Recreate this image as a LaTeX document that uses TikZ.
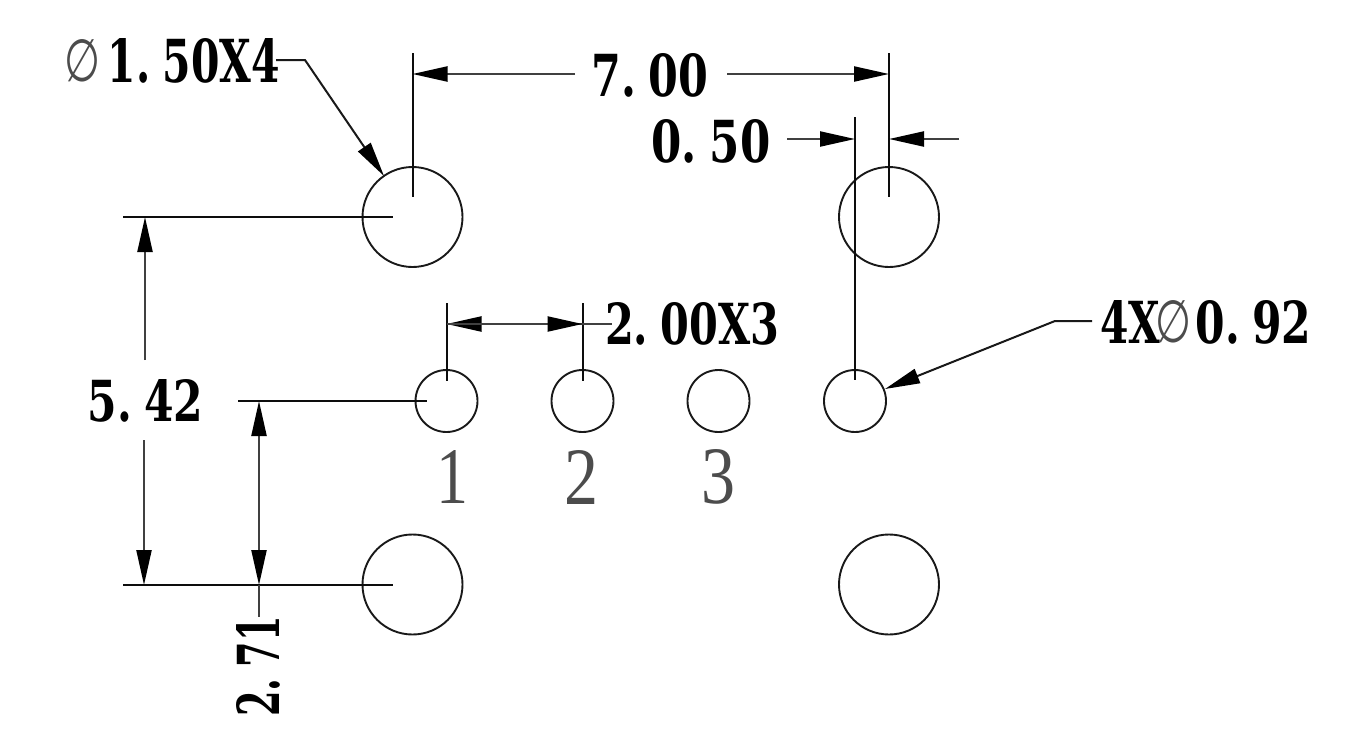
\documentclass[tikz,border=0pt]{standalone}
\usepackage{fontspec}
\usepackage{graphicx}
\usetikzlibrary{arrows.meta}
\setmainfont{DejaVu Serif}
\newfontfamily\thinfont{Liberation Serif}
\newfontfamily\symfont{DejaVu Sans}
\newcommand{\fitbold}[3]{\resizebox{#1pt}{#2pt}{\fontsize{40}{40}\selectfont\bfseries\spaceskip=.18em\relax #3}}
\newcommand{\fitthin}[3]{\resizebox{#1pt}{#2pt}{\fontsize{40}{40}\thinfont #3}}
\newcommand{\fitsym}[2]{\resizebox{#1pt}{#2pt}{\fontsize{40}{40}\symfont ∅}}
\tikzset{
  lbl/.style={inner sep=0pt,outer sep=0pt,text=black},
  numlbl/.style={inner sep=0pt,outer sep=0pt,text=black!70},
  symlbl/.style={inner sep=0pt,outer sep=0pt,text=black!70},
  hole/.style={circle,draw=black!90,line width=1.9pt,inner sep=0pt,outer sep=0pt},
  bighole/.style={hole,minimum size=100pt},
  smallhole/.style={hole,minimum size=62pt},
  extline/.style={draw=black!95,line width=2pt},
  dimline/.style={draw=black!75,line width=2.2pt},
  tip/.style={-{Triangle[length=35pt,width=15pt,color=black,fill=black]}},
  lead/.style={draw=black!90,line width=2pt},
}
\begin{document}
\begin{tikzpicture}[x=1pt,y=-1pt]
\useasboundingbox (0,0) rectangle (1347,739);
% holes
\node[bighole] (hA) at (412.5,217) {};
\node[bighole] (hB) at (889,217) {};
\node[bighole] (hC) at (412.5,584.5) {};
\node[bighole] (hD) at (889,584.5) {};
\node[smallhole] (p1) at (446.5,401) {};
\node[smallhole] (p2) at (582.5,401) {};
\node[smallhole] (p3) at (718.5,401) {};
\node[smallhole] (p4) at (855,401) {};
% pin numbers
\node[numlbl] (n1) at (452,477) {\fitthin{32}{53}{1}};
\node[numlbl] (n2) at (581,477) {\fitthin{34}{54}{2}};
\node[numlbl] (n3) at (718,477) {\fitthin{34}{54}{3}};
% labels
\node[symlbl] (phiA) at (82.5,61) {\fitsym{36}{42}};
\node[lbl] (tA) at (194,60.5) {\fitbold{172}{44}{1. 50X4}};
\node[lbl] (t700) at (650,75) {\fitbold{117}{43}{7. 00}};
\node[lbl] (t050) at (711,141.5) {\fitbold{119}{43}{0. 50}};
\node[lbl] (t200) at (692,324) {\fitbold{174}{42}{2. 00X3}};
\node[lbl] (t4x) at (1130,322) {\fitbold{60}{43}{4X}};
\node[symlbl] (phiB) at (1173,322) {\fitsym{36}{42}};
\node[lbl] (t092) at (1253.5,322) {\fitbold{116}{43}{0. 92}};
\node[lbl] (t542) at (145.5,401) {\fitbold{116}{42}{5. 42}};
\node[lbl,rotate=90] (t271) at (258.5,666.5) {\fitbold{100}{43}{2. 71}};
% coordinates for free ends
\coordinate (eA1) at (412.5,53);   \coordinate (eA2) at (412.5,197);
\coordinate (eB1) at (889,53);     \coordinate (eB2) at (889,197);
\coordinate (dA) at (412.5,74);    \coordinate (dA2) at (575,74);
\coordinate (dB) at (889,74);      \coordinate (dB2) at (727,74);
\coordinate (eC1) at (855,117);    \coordinate (eC2) at (855,380);
\coordinate (d50a) at (787,139);   \coordinate (d50b) at (855,139);
\coordinate (d50c) at (959,139);   \coordinate (d50d) at (889,139);
\coordinate (lA0) at (276,60);     \coordinate (lA1) at (305,60);  \coordinate (lA2) at (384,176);
\coordinate (lB0) at (1092,321);   \coordinate (lB1) at (1055,321);\coordinate (lB2) at (885,389);
\coordinate (eL1) at (123,217);    \coordinate (eL2) at (393,217);
\coordinate (eL3) at (123,585);    \coordinate (eL4) at (393,585);
\coordinate (eM1) at (238,401);    \coordinate (eM2) at (427,401);
\coordinate (v1a) at (145,217);    \coordinate (v1b) at (145,360);
\coordinate (v2a) at (144,440);    \coordinate (v2b) at (144,585);
\coordinate (v3a) at (259,401);    \coordinate (v3b) at (259,585);
\coordinate (v3c) at (259,617);    \coordinate (v3m) at (259,500);
\coordinate (eP1a) at (446.5,303); \coordinate (eP1b) at (446.5,381);
\coordinate (eP2a) at (582.5,303); \coordinate (eP2b) at (582.5,381);
\coordinate (dP1) at (446.5,324);  \coordinate (dP2) at (582.5,324);
\coordinate (dP3) at (612,324);
% extension lines
\path[extline] (eA1) -- (eA2);
\path[extline] (eB1) -- (eB2);
\path[extline] (eC1) -- (eC2);
\path[extline] (eL1) -- (eL2);
\path[extline] (eL3) -- (eL4);
\path[extline] (eM1) -- (eM2);
\path[extline] (eP1a) -- (eP1b);
\path[extline] (eP2a) -- (eP2b);
% dimension lines
\path[dimline,tip] (dA2) -- (dA);
\path[dimline,tip] (dB2) -- (dB);
\path[dimline,tip] (d50a) -- (d50b);
\path[dimline,tip] (d50c) -- (d50d);
\path[dimline,tip] (v1b) -- (v1a);
\path[dimline,tip] (v2a) -- (v2b);
\path[dimline,tip] (v3m) -- (v3a);
\path[dimline,tip] (v3m) -- (v3b);
\path[dimline] (v3b) -- (v3c);
\path[dimline,tip] (dP2) -- (dP1);
\path[dimline,tip] (dP1) -- (dP2);
\path[dimline] (dP2) -- (dP3);
% leaders
\path[lead,tip] (lA0) -- (lA1) -- (lA2);
\path[lead,tip] (lB0) -- (lB1) -- (lB2);
\end{tikzpicture}
\end{document}
